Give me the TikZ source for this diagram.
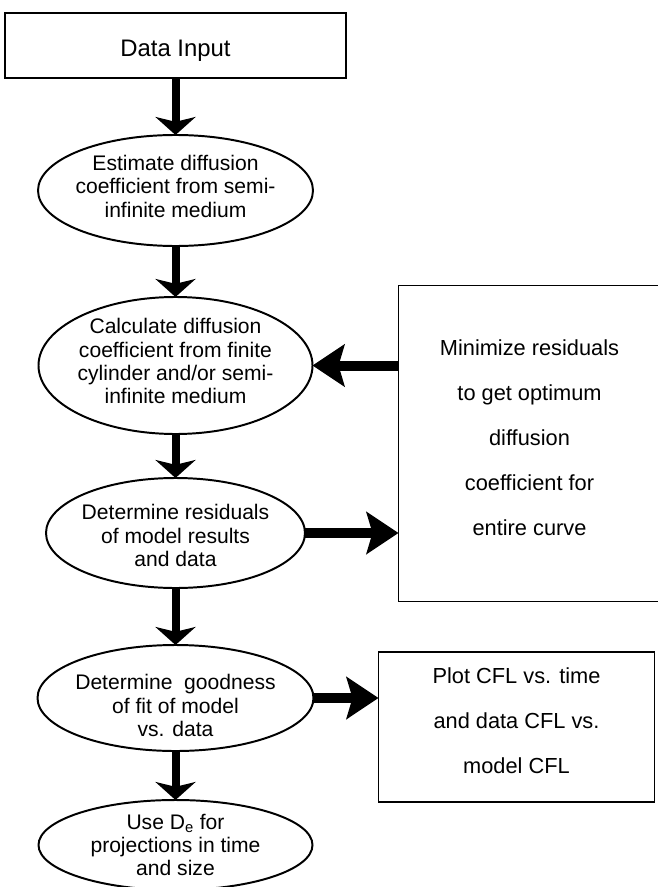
\documentclass[tikz,border=0pt]{standalone}
\usepackage{fontspec}
\setmainfont{Liberation Sans}
\usetikzlibrary{arrows.meta,positioning,shapes.geometric}

\begin{document}
\begin{tikzpicture}[
        node distance=1.3cm,
        >=Stealth,
        box/.style={draw, line width=1.4pt, align=center, inner sep=0pt, outer sep=0pt, font=\fontsize{15.5}{32}\selectfont},
        stage/.style={draw, ellipse, line width=1.4pt, align=center, inner xsep=-8pt, inner ysep=-8pt, outer sep=0pt, font=\fontsize{15}{16.6}\selectfont},
        flowdown/.style={line width=0.2cm, -{Stealth[length=0.45cm, width=1cm, inset=0.12cm]}},
        flowside/.style={line width=0.25cm, -{Stealth[length=0.8cm, width=1.05cm, inset=0.15cm]}}
      ]

      \useasboundingbox (0,0) rectangle (16.425,-22.175);

      % --- Main chain (stacked vertically) ---
      \node[box, minimum width=8.525cm, minimum height=1.625cm, text height=19pt, text depth=4pt, font=\fontsize{17}{20}\selectfont] (input) at (4.3875,-1.1375) {Data Input};

      \node[stage, below=1.425cm of input, minimum width=6.875cm, minimum height=2.775cm, text depth=6pt] (estim) {Estimate diffusion
        \\coefficient from semi-
        \\infinite medium};

      \node[stage, below=1.275cm of estim, minimum width=6.85cm, minimum height=3.425cm, text depth=6pt] (calc) {Calculate diffusion
        \\coefficient from finite
        \\cylinder and/or semi-
        \\infinite medium};

      \node[stage, below=1.1cm of calc, minimum width=6.475cm, minimum height=2.75cm, text height=48pt] (resid) {Determine residuals
        \\of model results
        \\and data};

      \node[stage, below=1.425cm of resid, minimum width=6.9cm, minimum height=2.65cm, text height=55pt] (fit) {Determine~ goodness
        \\of fit of model
        \\vs. data};

      \node[stage, below=1.225cm of fit, minimum width=6.85cm, minimum height=2.25cm] (proj) {Use D\textsubscript{e} for
        \\projections in time
        \\and size};

      % Side boxes
      \node[box, right=2.15cm of calc, yshift=-1.95cm, minimum width=6.55cm, minimum height=7.9cm, text depth=8pt] (minres) {Minimize residuals
        \\to get optimum
        \\diffusion
        \\coefficient for
        \\entire curve};

      \node[box, right=1.625cm of fit, yshift=-0.725cm, minimum width=6.9cm, minimum height=3.75cm, text depth=9pt] (plotcfl) {Plot CFL vs. time
        \\and data CFL vs.
        \\model CFL};

      % --- Arrows ---
      \draw[flowdown] (input) -- (estim);
      \draw[flowdown] (estim) -- (calc);
      \draw[flowdown] (calc) -- (resid);
      \draw[flowdown] (resid) -- (fit);
      \draw[flowdown] (fit) -- (proj);
      \draw[flowside] (minres.west |- calc.east) -- (calc.east);
      \draw[flowside] (resid.east) -- (resid.east -| minres.west);
      \draw[flowside] (fit.east) -- (fit.east -| plotcfl.west);

    \end{tikzpicture}
\end{document}
